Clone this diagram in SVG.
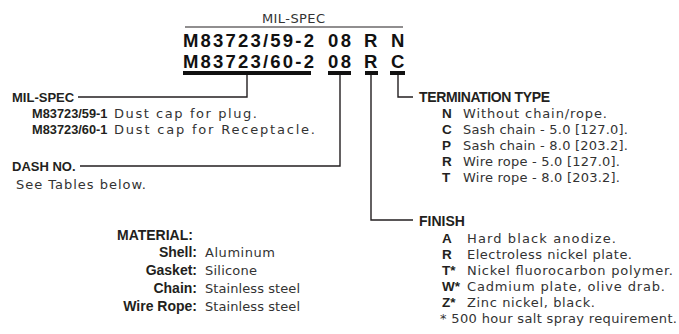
<svg xmlns="http://www.w3.org/2000/svg" width="679" height="334" viewBox="0 0 679 334">
<style>
.h{font-family:"Liberation Sans",Arial,sans-serif;font-weight:bold;font-size:14px;fill:#231f20}
.hl{font-family:"Liberation Sans",Arial,sans-serif;font-weight:bold;font-size:13px;fill:#231f20}
.k{font-family:"Liberation Sans",Arial,sans-serif;font-weight:bold;font-size:13.5px;fill:#231f20}
.m{font-family:"Liberation Sans",Arial,sans-serif;font-weight:bold;font-size:12.8px;fill:#231f20}
.t{font-family:"DejaVu Sans","Liberation Sans",sans-serif;font-size:13px;fill:#333}
.c{font-family:"Liberation Sans",Arial,sans-serif;font-weight:bold;font-size:18.5px;fill:#111}
.b{fill:#111}
.ln{fill:none;stroke:#231f20;stroke-width:1.4}
</style>
<rect width="679" height="334" fill="#fff"/>
<g id="part-number">
<text class="t" x="262" y="23" textLength="63" lengthAdjust="spacing">MIL-SPEC</text>
<line x1="185" y1="27" x2="403" y2="27" stroke="#231f20" stroke-width="1.2"/>
<text class="c" x="183" y="47" textLength="131" lengthAdjust="spacing">M83723/59-2</text>
<text class="c" x="328" y="47" textLength="23" lengthAdjust="spacing">08</text>
<text class="c" x="364" y="47">R</text>
<text class="c" x="391" y="47">N</text>
<text class="c" x="183" y="68" textLength="131" lengthAdjust="spacing">M83723/60-2</text>
<text class="c" x="328" y="68" textLength="23" lengthAdjust="spacing">08</text>
<text class="c" x="364" y="68">R</text>
<text class="c" x="391" y="68">C</text>
<rect class="b" x="183" y="71" width="128" height="4"/>
<rect class="b" x="328" y="71" width="23" height="4"/>
<rect class="b" x="365" y="71" width="13" height="4"/>
<rect class="b" x="390" y="71" width="15" height="4"/>
</g>
<g id="connectors">
<path class="ln" d="M247 75V97H78"/>
<path class="ln" d="M340 75V166H80"/>
<path class="ln" d="M371 75V220H413"/>
<path class="ln" d="M398 75V97H413"/>
</g>
<g id="mil-spec">
<text class="hl" x="12" y="102">MIL-SPEC</text>
<text class="m" x="32" y="118">M83723/59-1</text>
<text class="t" x="114" y="118" textLength="143" lengthAdjust="spacing">Dust cap for plug.</text>
<text class="m" x="32" y="134">M83723/60-1</text>
<text class="t" x="114" y="134" textLength="201" lengthAdjust="spacing">Dust cap for Receptacle.</text>
</g>
<g id="dash-no">
<text class="hl" x="12" y="171">DASH NO.</text>
<text class="t" x="16" y="189" textLength="130" lengthAdjust="spacing">See Tables below.</text>
</g>
<g id="termination">
<text class="h" x="419" y="102" textLength="131" lengthAdjust="spacing">TERMINATION TYPE</text>
<text class="k" x="442" y="118">N</text><text class="t" x="463" y="118" textLength="144" lengthAdjust="spacing">Without chain/rope.</text>
<text class="k" x="442" y="134">C</text><text class="t" x="463" y="134" textLength="165" lengthAdjust="spacing">Sash chain - 5.0 [127.0].</text>
<text class="k" x="442" y="150">P</text><text class="t" x="463" y="150" textLength="165" lengthAdjust="spacing">Sash chain - 8.0 [203.2].</text>
<text class="k" x="442" y="166">R</text><text class="t" x="463" y="166" textLength="157" lengthAdjust="spacing">Wire rope - 5.0 [127.0].</text>
<text class="k" x="442" y="182">T</text><text class="t" x="463" y="182" textLength="157" lengthAdjust="spacing">Wire rope - 8.0 [203.2].</text>
</g>
<g id="finish">
<text class="h" x="419" y="226">FINISH</text>
<text class="k" x="442" y="243">A</text><text class="t" x="467" y="243" textLength="149" lengthAdjust="spacing">Hard black anodize.</text>
<text class="k" x="442" y="259">R</text><text class="t" x="467" y="259" textLength="165" lengthAdjust="spacing">Electroless nickel plate.</text>
<text class="k" x="442" y="275">T*</text><text class="t" x="467" y="275" textLength="206" lengthAdjust="spacing">Nickel fluorocarbon polymer.</text>
<text class="k" x="442" y="291">W*</text><text class="t" x="467" y="291" textLength="198" lengthAdjust="spacing">Cadmium plate, olive drab.</text>
<text class="k" x="442" y="307">Z*</text><text class="t" x="467" y="307" textLength="128" lengthAdjust="spacing">Zinc nickel, black.</text>
<text class="t" x="440" y="323" textLength="237" lengthAdjust="spacing">* 500 hour salt spray requirement.</text>
</g>
<g id="material">
<text class="h" x="117" y="240">MATERIAL:</text>
<text class="h" x="197" y="257" text-anchor="end">Shell:</text><text class="t" x="205" y="257" textLength="70" lengthAdjust="spacing">Aluminum</text>
<text class="h" x="197" y="275" text-anchor="end">Gasket:</text><text class="t" x="205" y="275" textLength="52" lengthAdjust="spacing">Silicone</text>
<text class="h" x="197" y="293" text-anchor="end">Chain:</text><text class="t" x="205" y="293" textLength="95" lengthAdjust="spacing">Stainless steel</text>
<text class="h" x="197" y="311" text-anchor="end">Wire Rope:</text><text class="t" x="205" y="311" textLength="95" lengthAdjust="spacing">Stainless steel</text>
</g>
</svg>
